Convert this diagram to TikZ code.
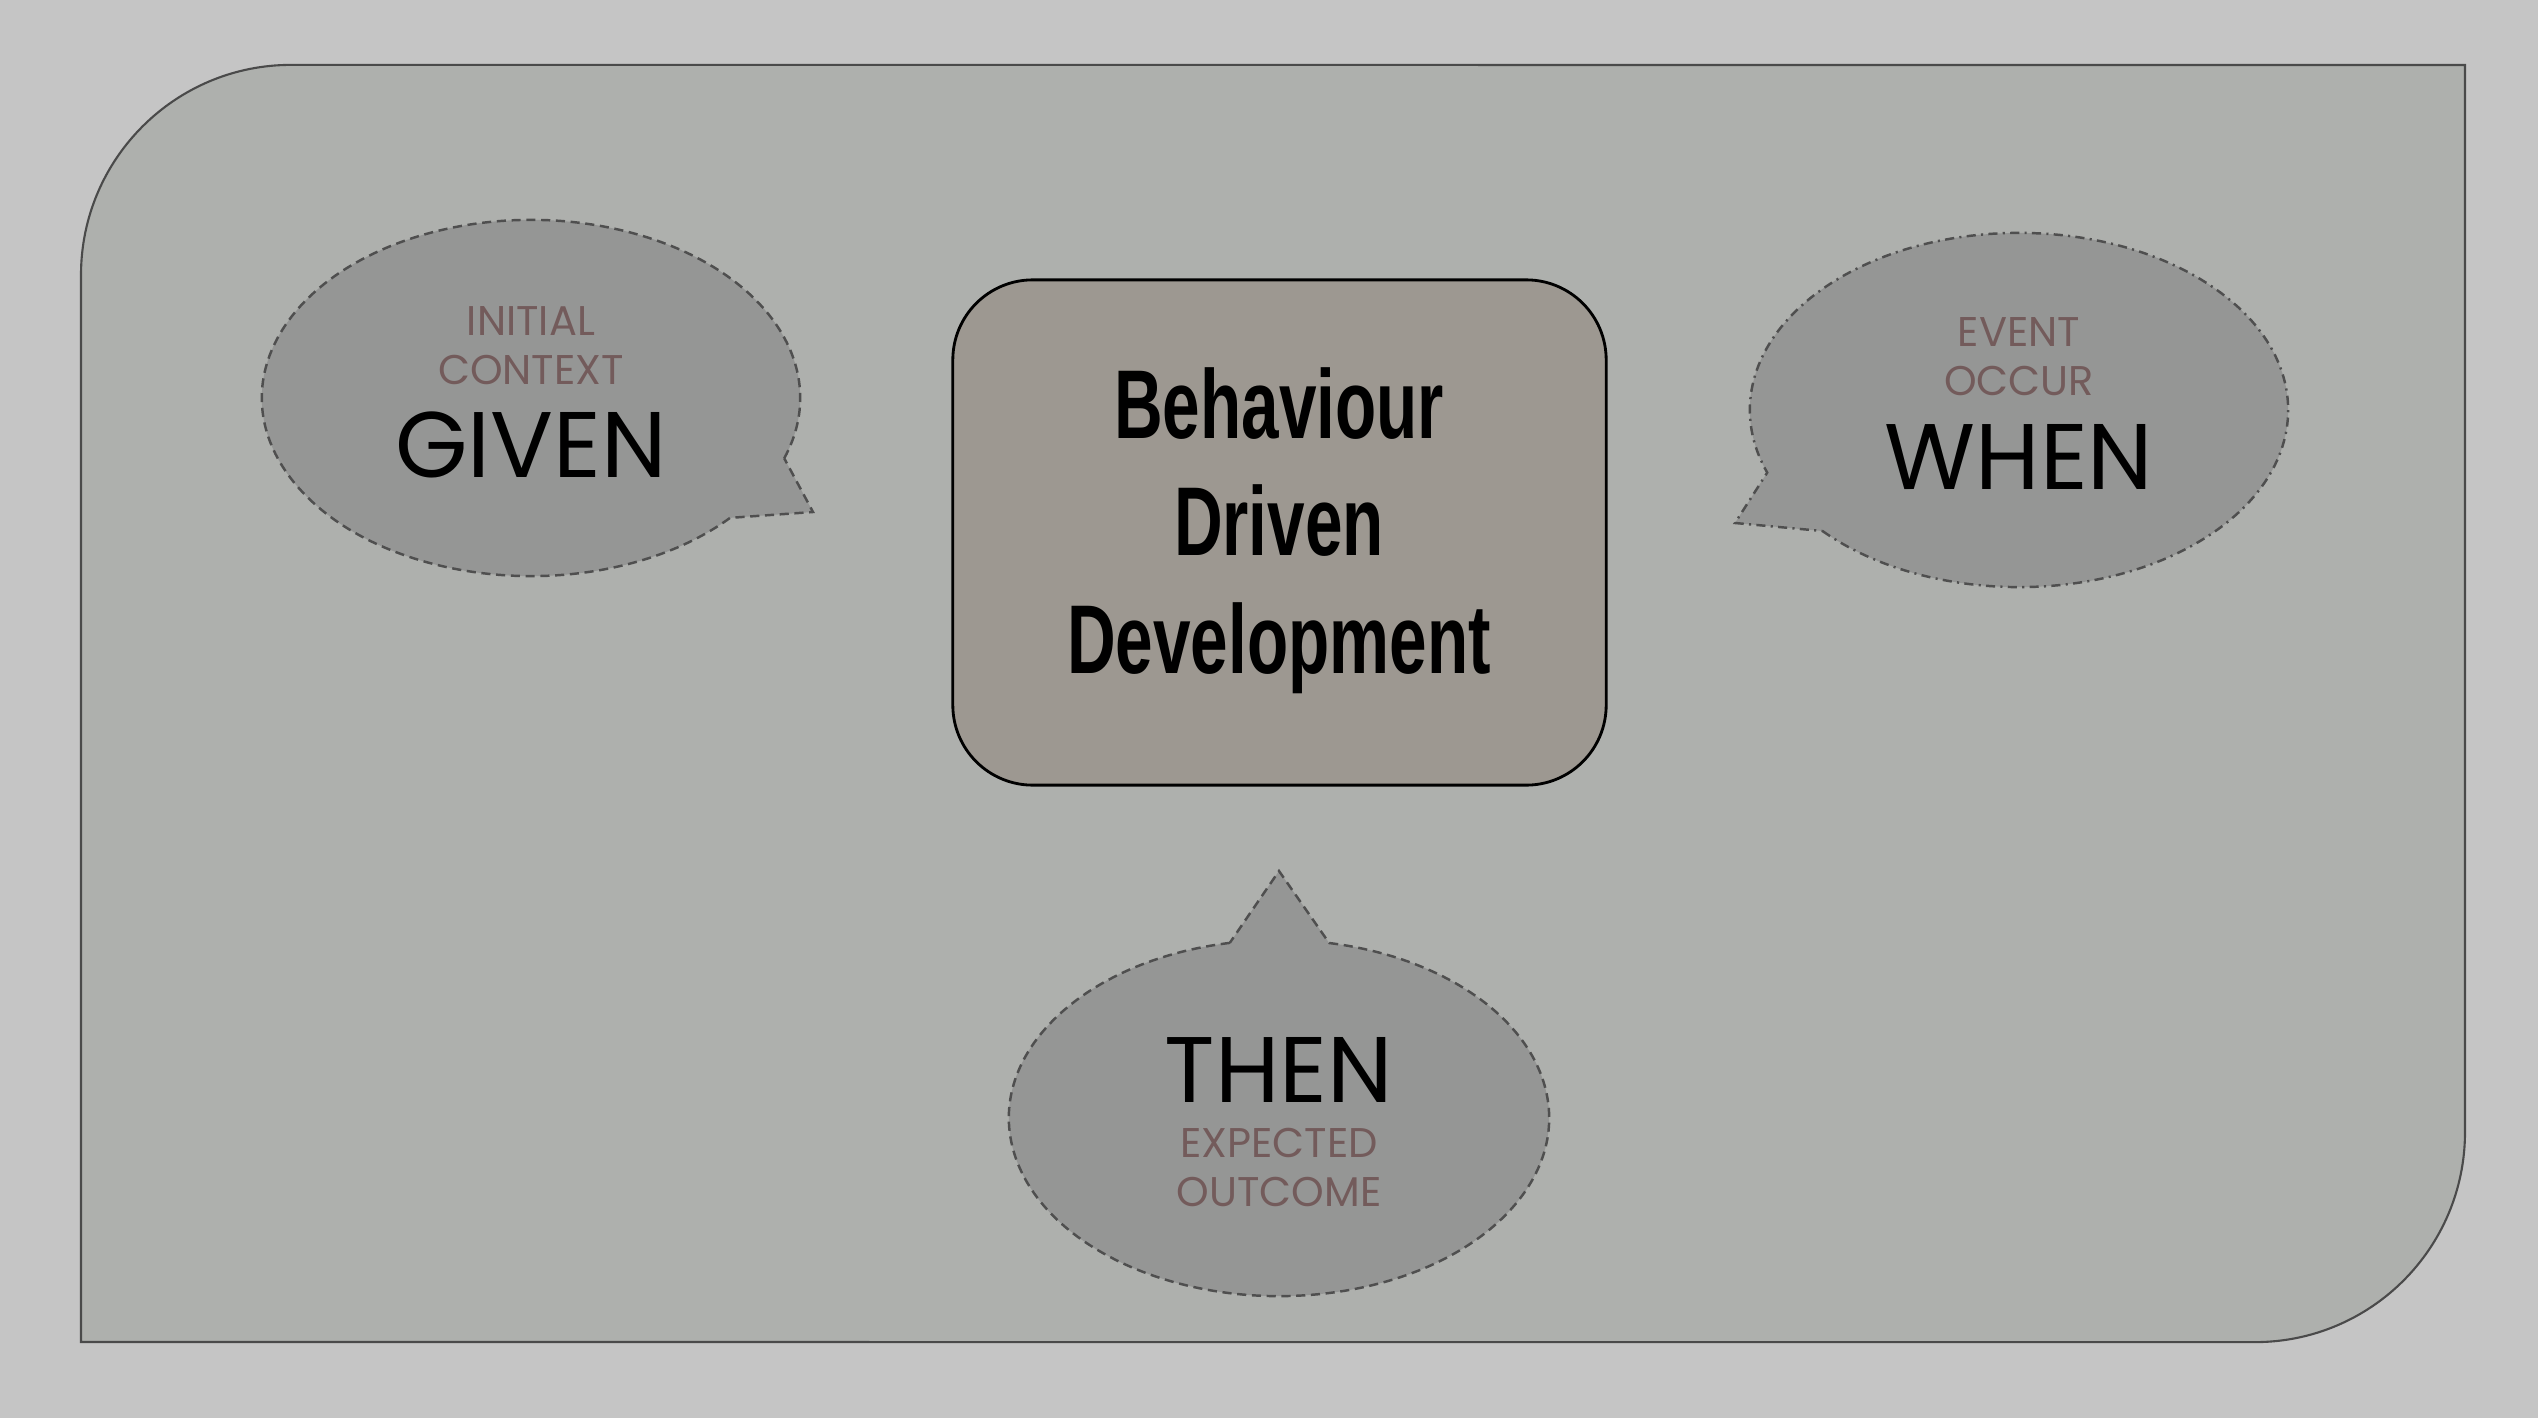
\documentclass[tikz,border=0pt]{standalone}
\usepackage{fontspec}
\newfontfamily\bubblefont{Poppins}
\newfontfamily\titlefont{Liberation Sans}[FakeStretch=0.69]
\definecolor{pagegray}{HTML}{C5C5C5}
\definecolor{panelgray}{HTML}{AEB0AD}
\definecolor{panelline}{HTML}{4A4A4A}
\definecolor{bubblegray}{HTML}{959695}
\definecolor{dashgray}{HTML}{4F4F4F}
\definecolor{boxgray}{HTML}{9D9891}
\definecolor{hintbrown}{HTML}{735B5B}
\tikzset{
  panel/.style={fill=panelgray, draw=panelline, line width=0.6pt},
  bubble/.style={fill=bubblegray, draw=dashgray, line width=0.7pt, dash pattern=on 2.6pt off 1.6pt},
  dotbubble/.style={bubble, dash pattern=on 2.6pt off 1.5pt on 0.6pt off 1.5pt},
  bddbox/.style={fill=boxgray, draw=black, line width=0.8pt, rounded corners=0.8cm, minimum width=6.53cm, minimum height=5.05cm},
  keyword/.style={font=\bubblefont\fontsize{26.5}{30}\selectfont, anchor=base, inner sep=0pt},
  hint/.style={font=\bubblefont\fontsize{11.8}{13.9}\selectfont, text=hintbrown, align=center, anchor=base, inner sep=0pt}
}
\begin{document}
\begin{tikzpicture}[x=0.01cm, y=0.01cm]
	% page and panel
	\useasboundingbox (0,0) rectangle (2538,-1418);
	\fill[pagegray] (0,0) rectangle (2538,-1418);
	\draw[panel] (81,-1342) -- (81,-275) arc[start angle=180, end angle=90, radius=2.1cm]
		-- (2465,-65) -- (2465,-1132) arc[start angle=0, end angle=-90, radius=2.1cm] -- cycle;
	
	% speech bubbles
	\coordinate (giventip) at (813,-512);
	\coordinate (whentip) at (1735,-523);
	\coordinate (thentip) at (1279,-871);
	\draw[bubble] (531,-398) ++(-19.8:2.69cm and 1.78cm)
		arc[start angle=-19.8, end angle=317.7, x radius=2.69cm, y radius=1.78cm] -- (giventip) -- cycle;
	\draw[dotbubble] (2019,-410) ++(223.1:2.69cm and 1.77cm)
		arc[start angle=223.1, end angle=560.7, x radius=2.69cm, y radius=1.77cm] -- (whentip) -- cycle;
	\draw[bubble] (1279,-1118) ++(100.5:2.70cm and 1.78cm)
		arc[start angle=100.5, end angle=439.3, x radius=2.70cm, y radius=1.78cm] -- (thentip) -- cycle;
	
	% centre box (base = baseline of the last line)
	\node[bddbox] (bdd) at (1279.5,-532.5) {};
	\node[anchor=base, align=center, inner sep=0pt, font=\titlefont\bfseries\fontsize{27.8}{33.3}\selectfont]
		(bddtitle) at (1279,-673) {Behaviour\\Driven\\Development};
	
	% bubble texts
	\node[hint] (givenhint) at (531,-384) {INITIAL\\CONTEXT};
	\node[keyword] (given) at (531,-477) {GIVEN};
	\node[hint] (whenhint) at (2019,-395) {EVENT\\OCCUR};
	\node[keyword] (when) at (2019,-489) {WHEN};
	\node[keyword] (then) at (1279,-1102) {THEN};
	\node[hint] (thenhint) at (1279,-1206) {EXPECTED\\OUTCOME};
\end{tikzpicture}
\end{document}
